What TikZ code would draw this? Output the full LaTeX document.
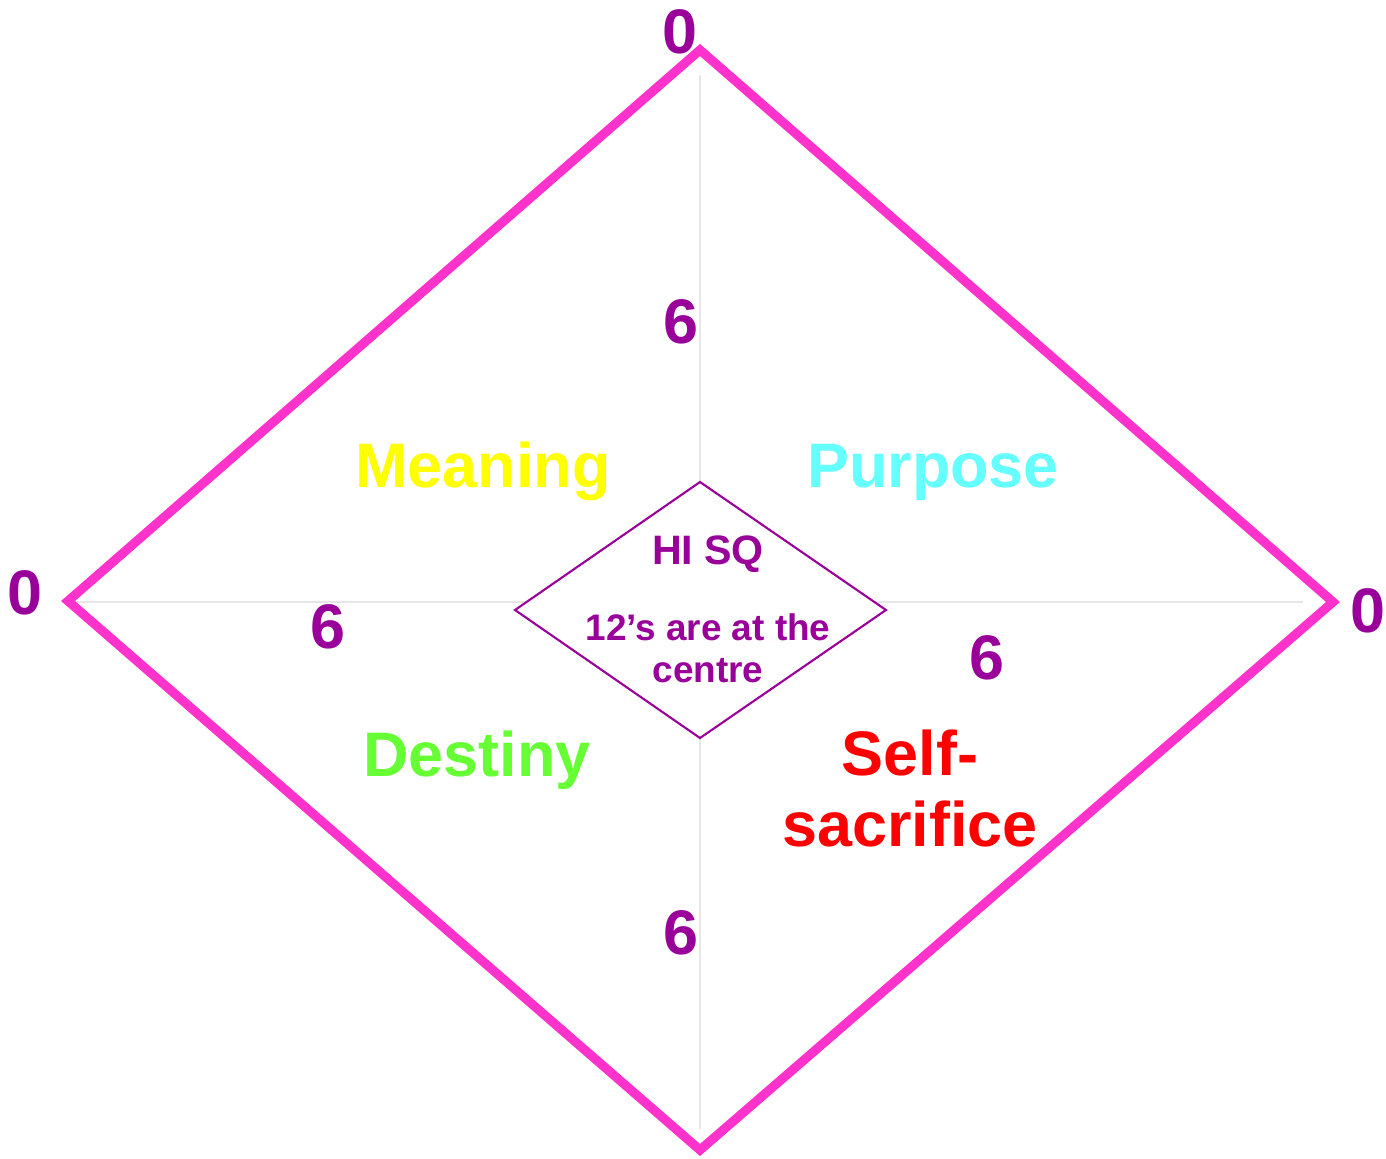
\documentclass[tikz,border=0pt]{standalone}
\usepackage{fontspec}
\setmainfont{Liberation Sans}
\usepackage{tikz}
\usetikzlibrary{positioning}
\definecolor{rim}{HTML}{FF33CC}
\definecolor{plum}{HTML}{990099}
\definecolor{axis}{HTML}{E6E6E6}
\definecolor{mean}{HTML}{FFFF00}
\definecolor{purp}{HTML}{66FFFF}
\definecolor{dest}{HTML}{66FF33}
\definecolor{sacr}{HTML}{FF0000}

\begin{document}
\begin{tikzpicture}[x=0.01cm,y=-0.01cm]

\useasboundingbox (0,0) rectangle (1386,1158);

\tikzstyle{big}=[font=\fontsize{17.9}{20}\selectfont\bfseries,anchor=base,inner sep=0pt]
\tikzstyle{num}=[big,text=plum]
\tikzstyle{small}=[font=\fontsize{10.5}{12}\selectfont\bfseries,anchor=base,inner sep=0pt,text=plum]

% corners
\coordinate (top) at (700,50);
\coordinate (left) at (68,601);
\coordinate (right) at (1333,602);
\coordinate (bot) at (700,1150);

% grey axes
\coordinate (hl) at (67,602);
\coordinate (hr) at (1303,602);
\coordinate (vt) at (700,75);
\coordinate (vb) at (700,1129);
\draw[axis,line width=0.5pt] (hl)--(hr);
\draw[axis,line width=0.5pt] (vt)--(vb);

\draw[rim,line width=2.6pt,line join=miter] (top)--(right)--(bot)--(left)--cycle;

% centre
\coordinate (itop) at (700,482);
\coordinate (ileft) at (515,610);
\coordinate (iright) at (886,610);
\coordinate (ibot) at (700,738);
\draw[plum,fill=white,line width=0.6pt] (itop)--(iright)--(ibot)--(ileft)--cycle;

\node (hisq) at (708,564) [small,font=\fontsize{11.7}{13}\selectfont\bfseries] {HI SQ};
\node (twelve) at (708,640) [small] {12’s are at the};
\node (centre) at (708,682) [small] {centre};

% scale
\node (ztop) at (680,54) [num] {0};
\node (zleft) at (25,614) [num] {0};
\node (zright) at (1368,632) [num] {0};
\node (stop) at (681,343) [num] {6};
\node (sleft) at (328,648) [num] {6};
\node (sright) at (987,679) [num] {6};
\node (sbot) at (681,954) [num] {6};

% quadrants
\node (meaning) at (483,487) [big,text=mean] {Meaning};
\node (purpose) at (933,487) [big,text=purp] {Purpose};
\node (destiny) at (477,776) [big,text=dest] {Destiny};
\node (self) at (910,775) [big,text=sacr] {Self-};
\node (sacrifice) at (910,846) [big,text=sacr] {sacrifice};

\end{tikzpicture}
\end{document}
